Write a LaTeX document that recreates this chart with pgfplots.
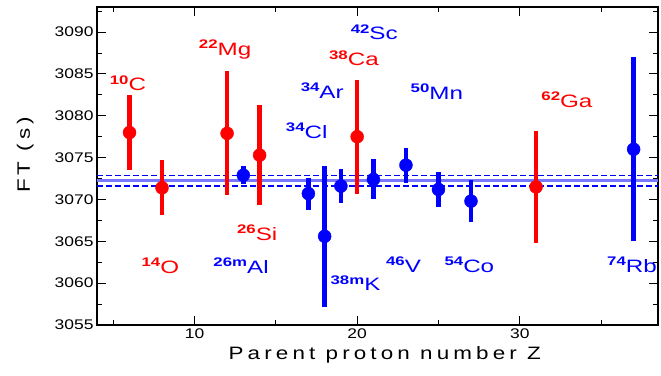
\documentclass[border=0pt]{standalone}
\usepackage{fontspec}
\setmainfont{Liberation Sans}[FakeStretch=1.25]
\newfontfamily\spaced{Liberation Sans}[FakeStretch=1.25,LetterSpace=23]
\newfontfamily\lab{Liberation Sans}[FakeStretch=1.35]
\usepackage{pgfplots}
\pgfplotsset{compat=1.18}
\definecolor{pr}{RGB}{255,0,0}
\definecolor{pb}{RGB}{0,0,255}
\definecolor{lb}{RGB}{120,120,255}
\newcommand\nuc[2]{{\fontsize{12.5}{12.5}\selectfont\bfseries\raisebox{6.5bp}{#1}}#2}
\begin{document}
\begin{tikzpicture}
\begin{axis}[
  scale only axis, width=561bp, height=318bp,
  xmin=4, xmax=38.5, ymin=3055, ymax=3093,
  axis line style={line width=1.5bp},
  every tick/.style={black, line width=1bp},
  tick align=inside, xtick pos=both, ytick pos=both,
  xticklabel pos=left, yticklabel pos=left,
  major tick length=9bp, minor tick length=5bp,
  xtick={10,20,30}, minor xtick={5,15,25,35},
  ytick={3055,3060,...,3090}, minor ytick={3057.5,3062.5,...,3092.5},
  /pgf/number format/assume math mode=true,
  /pgf/number format/1000 sep={},
  tick label style={font=\fontsize{14}{14}\selectfont},
  xlabel={\spaced Parent proton number Z},
  ylabel={\spaced FT (s)},
  xlabel style={font=\fontsize{18}{18}\selectfont, at={(axis description cs:0.513,-0.094)}, anchor=center},
  ylabel style={font=\fontsize{18}{18}\selectfont, at={(axis description cs:-0.128,0.535)}, anchor=center},
  clip=false,
]
\addplot[lb, no markers, line width=2.5bp] coordinates {(4,3072.25) (38.5,3072.25)};
\addplot[pb, no markers, line width=1.3bp, dash pattern=on 6bp off 3bp] coordinates {(4,3072.9) (38.5,3072.9)};
\addplot[pb, no markers, line width=1.3bp, dash pattern=on 6bp off 3bp] coordinates {(4,3071.6) (38.5,3071.6)};
\addplot[pr, only marks, mark=*, mark size=6.5bp,
  error bars/.cd, y dir=both, y explicit, error mark=none,
  error bar style={line width=4.5bp, pr}] coordinates {
  (6,3078.0) +- (0,4.5)
  (8,3071.4) +- (0,3.3)
  (12,3077.9) +- (0,7.4)
  (14,3075.3) +- (0,6.0)
  (20,3077.5) +- (0,6.8)
  (31,3071.5) +- (0,6.7)
};
\addplot[pb, only marks, mark=*, mark size=6.5bp,
  error bars/.cd, y dir=both, y explicit, error mark=none,
  error bar style={line width=4.5bp, pb}] coordinates {
  (13,3072.9) +- (0,1.1)
  (17,3070.7) +- (0,1.9)
  (18,3065.6) +- (0,8.4)
  (19,3071.6) +- (0,2.0)
  (21,3072.4) +- (0,2.4)
  (23,3074.1) +- (0,2.1)
  (25,3071.2) +- (0,2.1)
  (27,3069.8) +- (0,2.55)
  (37,3076.0) +- (0,11.0)
};
\begin{scope}[every node/.style={font=\lab\fontsize{18}{18}\selectfont, inner sep=0pt, anchor=center}]
\node[pr] at (axis cs:5.9,3083.9) {\nuc{10}{C}};
\node[pr] at (axis cs:11.88,3087.9) {\nuc{22}{Mg}};
\node[pr] at (axis cs:19.8,3086.9) {\nuc{38}{Ca}};
\node[pb] at (axis cs:21.05,3090.0) {\nuc{42}{Sc}};
\node[pb] at (axis cs:17.85,3083.0) {\nuc{34}{Ar}};
\node[pb] at (axis cs:16.9,3078.2) {\nuc{34}{Cl}};
\node[pb] at (axis cs:24.9,3082.9) {\nuc{50}{Mn}};
\node[pr] at (axis cs:32.9,3081.9) {\nuc{62}{Ga}};
\node[pr] at (axis cs:7.9,3062.1) {\nuc{14}{O}};
\node[pr] at (axis cs:13.85,3066.0) {\nuc{26}{Si}};
\node[pb] at (axis cs:12.86,3062.1) {\nuc{26m}{Al}};
\node[pb] at (axis cs:19.9,3060.0) {\nuc{38m}{K}};
\node[pb] at (axis cs:22.85,3062.2) {\nuc{46}{V}};
\node[pb] at (axis cs:26.9,3062.2) {\nuc{54}{Co}};
\node[pb] at (axis cs:36.9,3062.2) {\nuc{74}{Rb}};
\end{scope}
\end{axis}
\pgfresetboundingbox
\path ([shift={(-97bp,-51bp)}]current axis.south west) rectangle ([shift={(3bp,7bp)}]current axis.north east);
\end{tikzpicture}
\end{document}
